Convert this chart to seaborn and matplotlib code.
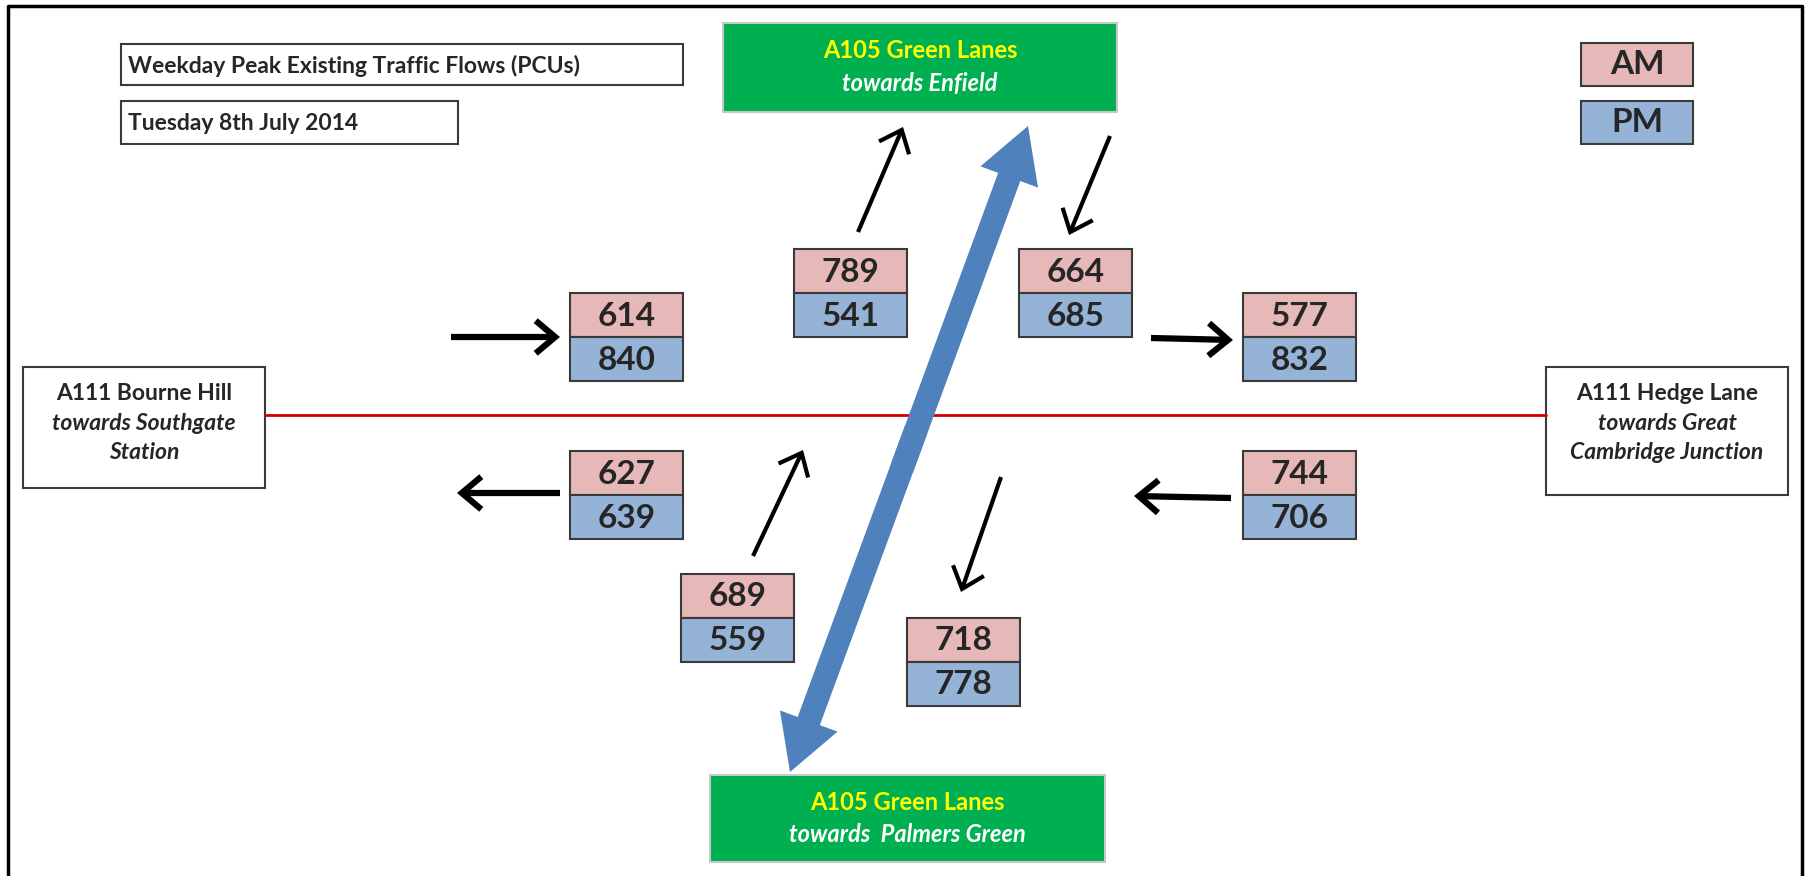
"""
Weekday peak existing traffic flows (PCUs) – junction diagram
A111 Bourne Hill / Hedge Lane x A105 Green Lanes
"""

import matplotlib.pyplot as plt
from matplotlib.patches import Rectangle, FancyArrowPatch
import seaborn as sns

sns.set_theme(style="white")
plt.rcParams['font.family'] = ['Lato', 'DejaVu Sans']

# ── data ──────────────────────────────────────────────────────────────
title = "Weekday Peak Existing Traffic Flows (PCUs)"
survey_date = "Tuesday 8th July 2014"
periods = ["AM", "PM"]

# one entry per turning movement count box
am_flows = [614, 789, 664, 577, 627, 744, 689, 718]
pm_flows = [840, 541, 685, 832, 639, 706, 559, 778]

road_names = ["A111 Bourne Hill", "A111 Hedge Lane",
              "A105 Green Lanes", "A105 Green Lanes"]
road_dirs = ["towards Southgate\nStation", "towards Great\nCambridge Junction",
             "towards Enfield", "towards  Palmers Green"]

# ── layout (pixel coords, y down) ─────────────────────────────────────
box_pos = [(570, 293), (794, 249), (1019, 249), (1243, 293),
           (570, 451), (1243, 451), (681, 574), (907, 618)]
BOX_W, BOX_H = 113, 44

arrow_pos = [((451, 337), (560, 337)),
             ((858, 232), (903, 127)),
             ((1110, 136), (1069, 235)),
             ((1151, 338), (1233, 340)),
             ((560, 493), (457, 493)),
             ((753, 556), (803, 450)),
             ((1001, 477), (961, 592)),
             ((1231, 498), (1134, 496))]
arrow_lw = [4.5, 3, 3, 4.5, 4.5, 3, 3, 4.5]

AM_COL = "#E6B8B7"
PM_COL = "#95B3D7"
GREEN = "#00B050"
EDGE = "#3a3a3a"

fig = plt.figure(figsize=(18.08, 8.76), dpi=100)
ax = fig.add_axes([0, 0, 1, 1])
ax.set_xlim(0, 1808)
ax.set_ylim(876, 0)
ax.axis("off")

# outer frame
ax.plot([8, 8, 1802, 1802], [880, 6, 6, 880], color="black", lw=2.5)

# title boxes
ax.add_patch(Rectangle((121, 44), 562, 41, fc="white", ec=EDGE, lw=1.5))
ax.text(128, 66, title, fontsize=16.5, fontweight="bold", va="center")
ax.add_patch(Rectangle((121, 101), 337, 43, fc="white", ec=EDGE, lw=1.5))
ax.text(128, 124, survey_date, fontsize=16.5, fontweight="bold", va="center")

# legend
for i, (lab, col) in enumerate(zip(periods, [AM_COL, PM_COL])):
    y0 = 43 + i * 58
    ax.add_patch(Rectangle((1581, y0), 112, 43, fc=col, ec=EDGE, lw=1.5))
    ax.text(1637, y0 + 22, lab, fontsize=24, fontweight="bold",
            ha="center", va="center")

# main road (A111)
ax.plot([265, 1546], [415, 415], color="#D00000", lw=2)

# A111 end boxes
for (x0, y0, w, h), name, sub in zip([(23, 367, 242, 121), (1546, 367, 242, 128)],
                                     road_names[:2], road_dirs[:2]):
    ax.add_patch(Rectangle((x0, y0), w, h, fc="white", ec=EDGE, lw=1.5))
    cx = x0 + w / 2
    ax.text(cx, y0 + 26, name, fontsize=16.5, fontweight="bold",
            ha="center", va="center")
    ax.text(cx, y0 + 71, sub, fontsize=16.5, fontweight="bold", style="italic",
            ha="center", va="center", linespacing=1.45)

# A105 green boxes
for (x0, y0, w, h), name, sub in zip([(723, 23, 394, 89), (710, 775, 395, 87)],
                                     road_names[2:], road_dirs[2:]):
    ax.add_patch(Rectangle((x0, y0), w, h, fc=GREEN, ec="#c8c8c8", lw=1.5))
    cx = x0 + w / 2
    ax.text(cx, y0 + 27, name, fontsize=17, fontweight="bold", color="#FFFF00",
            ha="center", va="center")
    ax.text(cx, y0 + 60, sub, fontsize=17, fontweight="bold", style="italic",
            color="white", ha="center", va="center")

# A105 double arrow: two halves that overlap a little around the middle
north, south = (1028, 126), (790, 772)


def _along(t):
    return (south[0] + t * (north[0] - south[0]), south[1] + t * (north[1] - south[1]))


for start, end in [(_along(0.47), north), (_along(0.53), south)]:
    ax.add_patch(FancyArrowPatch(start, end,
                 arrowstyle="simple,head_length=2.3,head_width=2.6,tail_width=1.0",
                 mutation_scale=17, fc="#4F81BD", ec="none", shrinkA=0, shrinkB=0,
                 zorder=2))

# turning movement arrows
for (p0, p1), lw in zip(arrow_pos, arrow_lw):
    ax.add_patch(FancyArrowPatch(p0, p1, arrowstyle="->,head_length=0.5,head_width=0.42",
                 mutation_scale=28, color="black", lw=lw, shrinkA=0, shrinkB=0,
                 capstyle="butt", joinstyle="miter", zorder=3))

# count boxes
for (x0, y0), am, pm in zip(box_pos, am_flows, pm_flows):
    for k, (val, col) in enumerate([(am, AM_COL), (pm, PM_COL)]):
        ax.add_patch(Rectangle((x0, y0 + k * BOX_H), BOX_W, BOX_H,
                               fc=col, ec=EDGE, lw=1.5, zorder=4))
        ax.text(x0 + BOX_W / 2, y0 + k * BOX_H + BOX_H / 2 + 1, str(val),
                fontsize=24, fontweight="bold", ha="center", va="center", zorder=5)

fig.savefig("out.png", dpi=100)
